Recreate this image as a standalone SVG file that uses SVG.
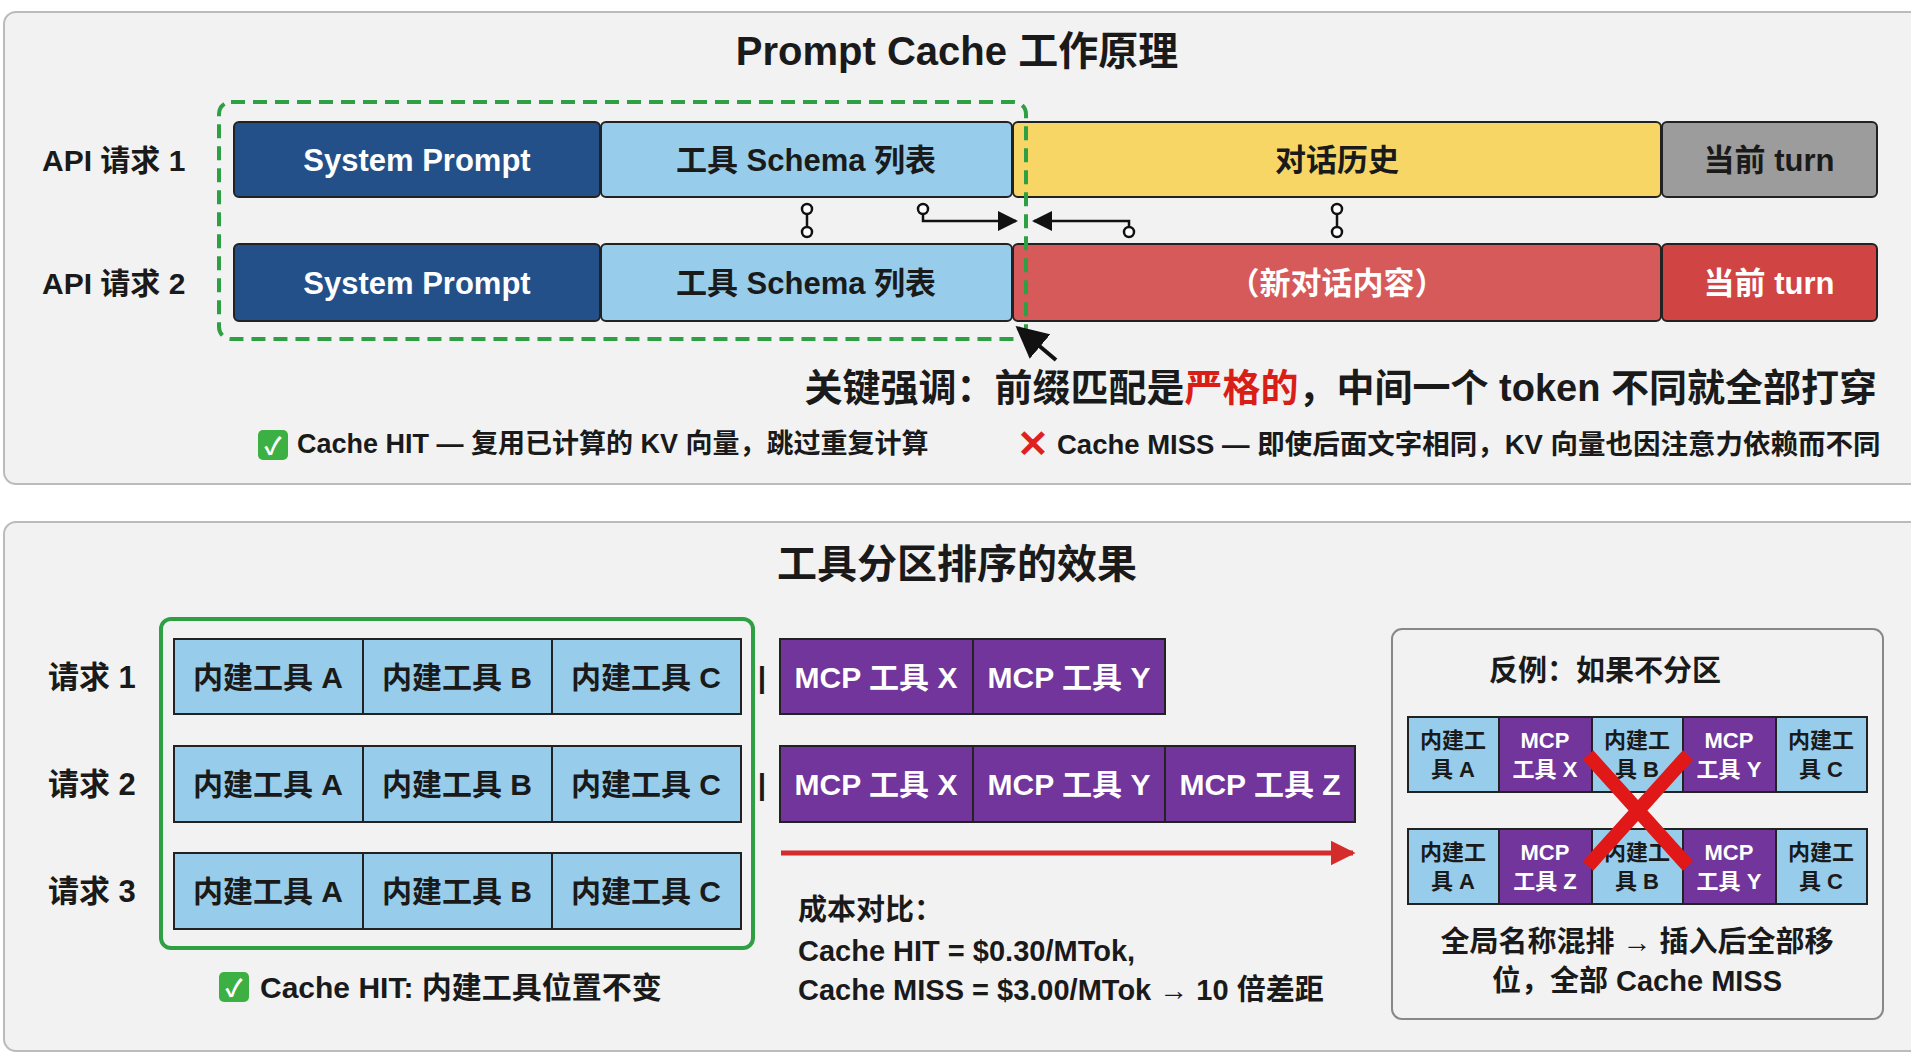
<svg xmlns="http://www.w3.org/2000/svg" width="1911" height="1062" viewBox="0 0 1911 1062">
<defs>
<style>
text{font-family:"Liberation Sans","Noto Sans CJK SC",sans-serif;font-weight:bold;fill:#1a1a1a}
.c{text-anchor:middle;dominant-baseline:central}
.panel{fill:#f2f2f2;stroke:#bbb;stroke-width:2}
.cell{stroke:#222;stroke-width:2}
.w{fill:#fff}
.lb{fill:#97cdea}.nv{fill:#24508a}.pu{fill:#71359c}
</style>
<marker id="ah" viewBox="0 0 10 10" refX="9" refY="5" markerWidth="8" markerHeight="8" orient="auto"><path d="M0,0L10,5L0,10z" fill="#111"/></marker>
<marker id="rh" viewBox="0 0 10 10" refX="9" refY="5" markerWidth="5" markerHeight="5" orient="auto"><path d="M0,0L10,5L0,10z" fill="#d42b2b"/></marker>
</defs>
<rect width="1911" height="1062" fill="#fff"/>
<g id="panel1">
<rect class="panel" x="4" y="12" width="1920" height="472" rx="12"/>
<text class="c" x="957" y="51" font-size="40">Prompt Cache 工作原理</text>
<text x="42" y="160" font-size="30" dominant-baseline="central">API 请求 1</text>
<text x="42" y="283" font-size="30" dominant-baseline="central">API 请求 2</text>
</g>
<g id="req1">
<rect class="cell nv" x="234" y="122" width="366" height="75" rx="5"/><text class="c w" x="417" y="160" font-size="31">System Prompt</text>
<rect class="cell lb" x="601" y="122" width="411" height="75" rx="5"/><text class="c" x="806" y="160" font-size="31">工具 Schema 列表</text>
<rect class="cell" fill="#f8d665" x="1013" y="122" width="648" height="75" rx="5"/><text class="c" x="1337" y="160" font-size="31">对话历史</text>
<rect class="cell" fill="#9c9c9c" x="1662" y="122" width="215" height="75" rx="5"/><text class="c" x="1769" y="160" font-size="31">当前 turn</text>
</g>
<g id="req2">
<rect class="cell nv" x="234" y="244" width="366" height="77" rx="5"/><text class="c w" x="417" y="283" font-size="31">System Prompt</text>
<rect class="cell lb" x="601" y="244" width="411" height="77" rx="5"/><text class="c" x="806" y="283" font-size="31">工具 Schema 列表</text>
<rect class="cell" fill="#d65a5a" x="1013" y="244" width="648" height="77" rx="5"/><text class="c w" x="1337" y="283" font-size="31">（新对话内容）</text>
<rect class="cell" fill="#d04444" x="1662" y="244" width="215" height="77" rx="5"/><text class="c w" x="1769" y="283" font-size="31">当前 turn</text>
</g>
<g id="notes1">
<text x="1877" y="388" font-size="38" text-anchor="end" dominant-baseline="central">关键强调：前缀匹配是<tspan fill="#d91e18">严格的</tspan>，中间一个 token 不同就全部打穿</text>
<rect x="258" y="430" width="30" height="30" rx="5" fill="#3cb043"/><text class="c w" x="273" y="446" font-size="24">✓</text>
<text x="297" y="444" font-size="27" dominant-baseline="central">Cache HIT — 复用已计算的 KV 向量，跳过重复计算</text>
<text class="c" x="1033" y="444" font-size="38" style="fill:#e02020">✕</text>
<text x="1057" y="444" font-size="27.5" dominant-baseline="central">Cache MISS — 即使后面文字相同，KV 向量也因注意力依赖而不同</text>
</g>
<g id="panel2">
<rect class="panel" x="4" y="522" width="1920" height="529" rx="12"/>
<text class="c" x="957" y="564" font-size="40">工具分区排序的效果</text>
<text x="48" y="677" font-size="31" dominant-baseline="central">请求 1</text>
<text x="48" y="784" font-size="31" dominant-baseline="central">请求 2</text>
<text x="48" y="891" font-size="31" dominant-baseline="central">请求 3</text>
<text class="c" x="762" y="677" font-size="30">|</text>
<text class="c" x="762" y="784" font-size="30">|</text>
</g>
<g id="builtin">
<rect class="cell lb" x="174" y="639" width="189" height="75"/><rect class="cell lb" x="363" y="639" width="189" height="75"/><rect class="cell lb" x="552" y="639" width="189" height="75"/>
<text class="c" x="268" y="677" font-size="30">内建工具 A</text><text class="c" x="457" y="677" font-size="30">内建工具 B</text><text class="c" x="646" y="677" font-size="30">内建工具 C</text>
<rect class="cell lb" x="174" y="746" width="189" height="76"/><rect class="cell lb" x="363" y="746" width="189" height="76"/><rect class="cell lb" x="552" y="746" width="189" height="76"/>
<text class="c" x="268" y="784" font-size="30">内建工具 A</text><text class="c" x="457" y="784" font-size="30">内建工具 B</text><text class="c" x="646" y="784" font-size="30">内建工具 C</text>
<rect class="cell lb" x="174" y="853" width="189" height="76"/><rect class="cell lb" x="363" y="853" width="189" height="76"/><rect class="cell lb" x="552" y="853" width="189" height="76"/>
<text class="c" x="268" y="891" font-size="30">内建工具 A</text><text class="c" x="457" y="891" font-size="30">内建工具 B</text><text class="c" x="646" y="891" font-size="30">内建工具 C</text>
</g>
<g id="mcp">
<rect class="cell pu" x="780" y="639" width="193" height="75"/><rect class="cell pu" x="973" y="639" width="192" height="75"/>
<text class="c w" x="876" y="677" font-size="30">MCP 工具 X</text><text class="c w" x="1069" y="677" font-size="30">MCP 工具 Y</text>
<rect class="cell pu" x="780" y="746" width="193" height="76"/><rect class="cell pu" x="973" y="746" width="192" height="76"/><rect class="cell pu" x="1165" y="746" width="190" height="76"/>
<text class="c w" x="876" y="784" font-size="30">MCP 工具 X</text><text class="c w" x="1069" y="784" font-size="30">MCP 工具 Y</text><text class="c w" x="1260" y="784" font-size="30">MCP 工具 Z</text>
</g>
<g id="notes2">
<text x="798" y="910" font-size="29" dominant-baseline="central">成本对比：</text>
<text x="798" y="951" font-size="29" dominant-baseline="central">Cache HIT = $0.30/MTok,</text>
<text x="798" y="990" font-size="29" dominant-baseline="central">Cache MISS = $3.00/MTok → 10 倍差距</text>
<rect x="219" y="972" width="30" height="30" rx="5" fill="#3cb043"/><text class="c w" x="234" y="988" font-size="24">✓</text>
<text x="260" y="987" font-size="30" dominant-baseline="central">Cache HIT: 内建工具位置不变</text>
</g>
<g id="counter">
<rect x="1392" y="629" width="491" height="390" rx="10" fill="#f2f2f2" stroke="#888" stroke-width="2"/>
<text class="c" x="1605" y="671" font-size="29">反例：如果不分区</text>
<rect class="cell lb" x="1408" y="717" width="91" height="75"/><rect class="cell pu" x="1499" y="717" width="93" height="75"/><rect class="cell lb" x="1592" y="717" width="91" height="75"/><rect class="cell pu" x="1683" y="717" width="93" height="75"/><rect class="cell lb" x="1776" y="717" width="91" height="75"/>
<text class="c" x="1453" y="740" font-size="22">内建工</text><text class="c" x="1453" y="769" font-size="22">具 A</text>
<text class="c w" x="1545" y="740" font-size="22">MCP</text><text class="c w" x="1545" y="769" font-size="22">工具 X</text>
<text class="c" x="1637" y="740" font-size="22">内建工</text><text class="c" x="1637" y="769" font-size="22">具 B</text>
<text class="c w" x="1729" y="740" font-size="22">MCP</text><text class="c w" x="1729" y="769" font-size="22">工具 Y</text>
<text class="c" x="1821" y="740" font-size="22">内建工</text><text class="c" x="1821" y="769" font-size="22">具 C</text>
<rect class="cell lb" x="1408" y="829" width="91" height="75"/><rect class="cell pu" x="1499" y="829" width="93" height="75"/><rect class="cell lb" x="1592" y="829" width="91" height="75"/><rect class="cell pu" x="1683" y="829" width="93" height="75"/><rect class="cell lb" x="1776" y="829" width="91" height="75"/>
<text class="c" x="1453" y="852" font-size="22">内建工</text><text class="c" x="1453" y="881" font-size="22">具 A</text>
<text class="c w" x="1545" y="852" font-size="22">MCP</text><text class="c w" x="1545" y="881" font-size="22">工具 Z</text>
<text class="c" x="1637" y="852" font-size="22">内建工</text><text class="c" x="1637" y="881" font-size="22">具 B</text>
<text class="c w" x="1729" y="852" font-size="22">MCP</text><text class="c w" x="1729" y="881" font-size="22">工具 Y</text>
<text class="c" x="1821" y="852" font-size="22">内建工</text><text class="c" x="1821" y="881" font-size="22">具 C</text>
<path d="M1588,755L1688,866M1688,755L1588,866" stroke="#e01818" stroke-width="14"/>
<text class="c" x="1637" y="942" font-size="29">全局名称混排 → 插入后全部移</text>
<text class="c" x="1637" y="981" font-size="29">位，全部 Cache MISS</text>
</g>
<g id="connectors" fill="none" stroke="#111" stroke-width="2.5">
<rect x="219" y="102" width="807" height="237" rx="12" stroke="#2ea043" stroke-width="4" stroke-dasharray="14,8"/>
<line x1="807" y1="205" x2="807" y2="236"/><circle cx="807" cy="209" r="5" fill="#fff"/><circle cx="807" cy="232" r="5" fill="#fff"/>
<circle cx="923" cy="209" r="5" fill="#fff"/><path d="M923,214V221H1016" marker-end="url(#ah)"/>
<circle cx="1129" cy="232" r="5" fill="#fff"/><path d="M1129,227V221H1034" marker-end="url(#ah)"/>
<line x1="1337" y1="205" x2="1337" y2="236"/><circle cx="1337" cy="209" r="5" fill="#fff"/><circle cx="1337" cy="232" r="5" fill="#fff"/>
<line x1="1056" y1="360" x2="1018" y2="328" stroke-width="4" marker-end="url(#ah)"/>
<rect x="161" y="619" width="592" height="329" rx="10" stroke="#2ea043" stroke-width="4"/>
<line x1="781" y1="853" x2="1353" y2="853" stroke="#d42b2b" stroke-width="5" marker-end="url(#rh)"/>
</g>
</svg>
